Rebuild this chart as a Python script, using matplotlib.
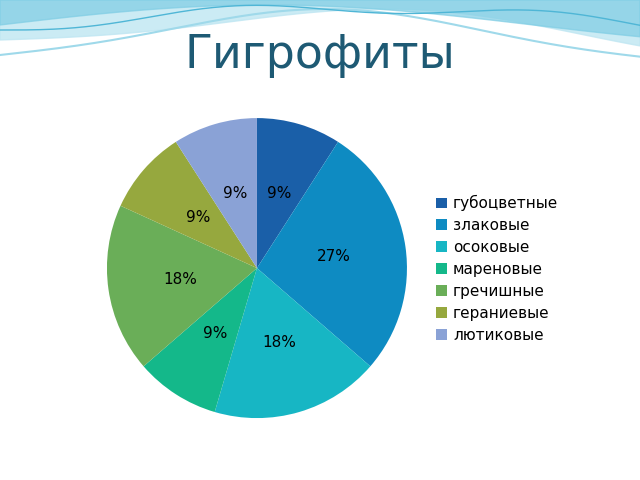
import numpy as np
import matplotlib.pyplot as plt

title = 'Гигрофиты'
categories = ['губоцветные', 'злаковые', 'осоковые', 'мареновые',
              'гречишные', 'гераниевые', 'лютиковые']
counts = [1, 3, 2, 1, 2, 1, 1]
colors = ['#1a5fa8', '#0e8bc2', '#17b6c4', '#14b88a',
          '#6aae58', '#96a83e', '#8aa2d6']

fig = plt.figure(figsize=(6.4, 4.8), dpi=100)

# decorative waves at the top
bg = fig.add_axes([0, 0, 1, 1], zorder=-1)
bg.set_xlim(0, 640)
bg.set_ylim(480, 0)
bg.axis('off')
x = np.linspace(0, 640, 300)
bg.fill_between(x, 0, 40 - 25 * np.sin(x / 640 * np.pi) + 8 * np.sin(x / 90), color='#bfe6f2', alpha=0.8)
bg.fill_between(x, 0, 25 - 20 * np.sin(x / 640 * np.pi * 1.2), color='#7fcde4', alpha=0.7)
bg.plot(x, 55 - 40 * np.sin(x / 640 * np.pi) + 6 * np.sin(x / 70), color='#9fd9ea', lw=1.5)
bg.plot(x, 30 - 22 * np.sin(x / 700 * np.pi) + 5 * np.sin(x / 50), color='#4fb6d6', lw=1)

fig.text(0.5, 0.885, title, ha='center', va='center', fontsize=33, color='#1e5a74')

ax = fig.add_axes([0.167, 0.129, 0.469, 0.625])
wedges, texts, autotexts = ax.pie(
    counts, colors=colors, startangle=90, counterclock=False,
    autopct='%1.0f%%', pctdistance=0.52,
    textprops={'fontsize': 11, 'color': 'black'})
ax.set_xlim(-1, 1)
ax.set_ylim(-1, 1)
ax.set_aspect('equal')

fig.legend(wedges, categories, loc='center left', bbox_to_anchor=(0.66, 0.44),
           frameon=False, fontsize=11, handlelength=0.7, handleheight=0.7,
           labelspacing=0.45, handletextpad=0.4)

fig.savefig('out.png', dpi=100)
